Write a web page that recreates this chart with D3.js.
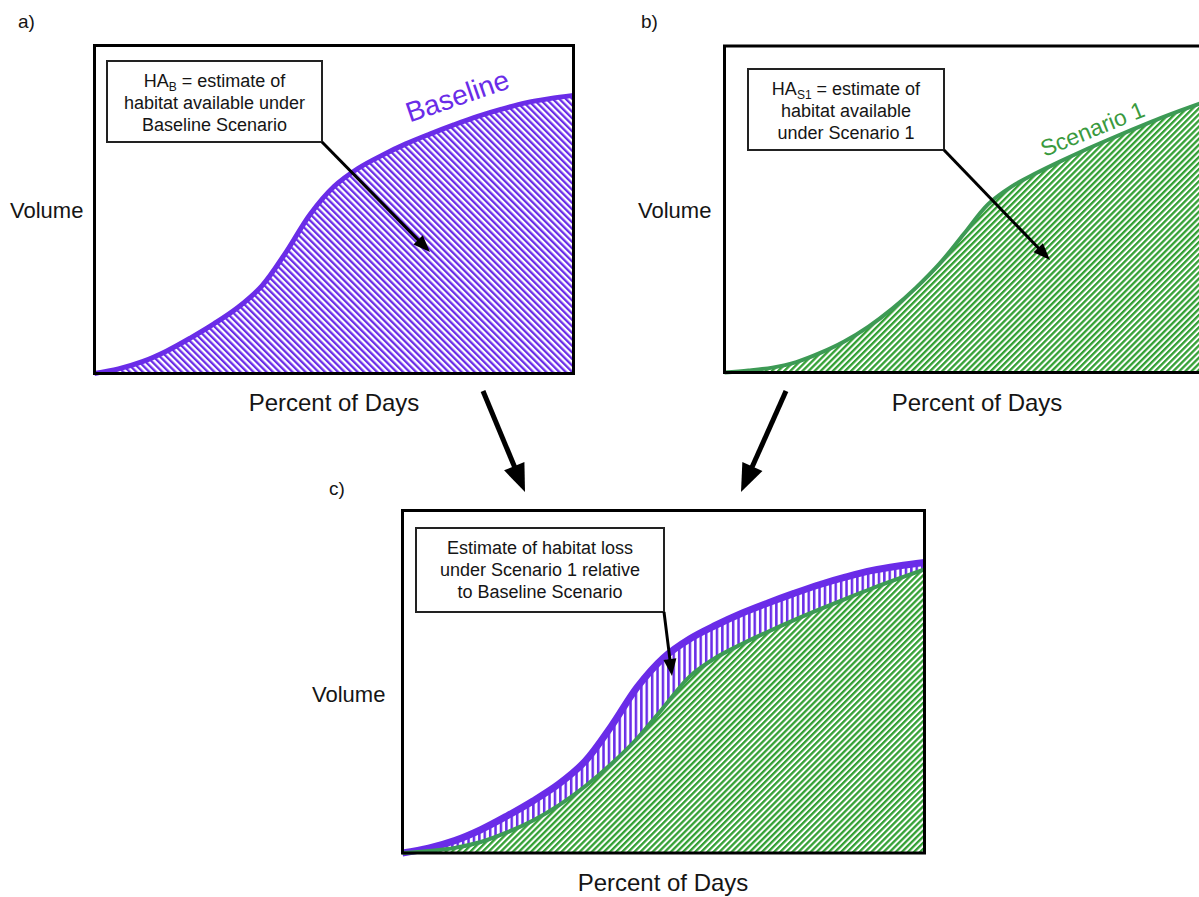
<!DOCTYPE html>
<html>
<head>
<meta charset="utf-8">
<script src="https://cdn.jsdelivr.net/npm/d3@7"></script>
<style>
  body { margin: 0; background: #fff; }
  text { font-family: "Liberation Sans", Arial, sans-serif; fill: #151515; }
</style>
</head>
<body>
<div id="chart"></div>
<script>
// x: percent of days, y: volume (both 0-100)
const pctDays = [0, 5, 10, 15, 20, 25, 30, 35, 40, 45, 50, 55, 60, 65, 70, 75, 80, 85, 90, 95, 100];
const baselineVol = [0, 1.4, 3.6, 6.8, 10.8, 15.2, 20.2, 26.8, 37, 48.5, 57, 62.5, 66.5, 70, 73, 75.8, 78.4, 80.6, 82.5, 83.8, 84.8];
const scenario1Vol = [0, 0.6, 1.5, 3.2, 6, 9.5, 14, 19.5, 26, 33.5, 42.5, 51.5, 57, 61, 64.6, 68, 71.2, 74.3, 77.3, 80.1, 82.8];

const panelLabels = ['a)', 'b)', 'c)'];
const xTitle = 'Percent of Days';
const yTitle = 'Volume';
const noteA = [[['HA', 0], ['B', 1], [' = estimate of', 0]], [['habitat available under', 0]], [['Baseline Scenario', 0]]];
const noteB = [[['HA', 0], ['S1', 1], [' = estimate of', 0]], [['habitat available', 0]], [['under Scenario 1', 0]]];
const noteC = [[['Estimate of habitat loss', 0]], [['under Scenario 1 relative', 0]], [['to Baseline Scenario', 0]]];

const blue = '#6a2ce8';
const green = '#3d9a55';
const greenHatch = '#33a034';

const svg = d3.select('#chart')
  .append('svg')
  .attr('width', 1199)
  .attr('height', 897);
const defs = svg.append('defs');
const curve = d3.curveCatmullRom.alpha(0.5);

// hatch patterns
function hatch(id, color, angle, pitch, lw) {
  const p = defs.append('pattern')
    .attr('id', id)
    .attr('patternUnits', 'userSpaceOnUse')
    .attr('width', pitch)
    .attr('height', pitch)
    .attr('patternTransform', `rotate(${angle})`);
  p.append('rect').attr('width', pitch).attr('height', pitch).attr('fill', '#fff');
  p.append('rect').attr('width', lw).attr('height', pitch).attr('fill', color);
}
hatch('hatchBlue', blue, -45, 4.6, 2.3);
hatch('hatchGreen', greenHatch, 45, 4.3, 2.3);
hatch('hatchBlueV', blue, 0, 5.4, 2.5);

const data = pctDays.map((d, i) => ({ p: d, b: baselineVol[i], s: scenario1Vol[i] }));

function arrow(x1, y1, x2, y2, lw, hl, hw) {
  const a = Math.atan2(y2 - y1, x2 - x1);
  const bx = x2 - hl * Math.cos(a), by = y2 - hl * Math.sin(a);
  svg.append('line')
    .attr('x1', x1).attr('y1', y1).attr('x2', bx + Math.cos(a)).attr('y2', by + Math.sin(a))
    .attr('stroke', '#000').attr('stroke-width', lw);
  const nx = -Math.sin(a) * hw / 2, ny = Math.cos(a) * hw / 2;
  svg.append('path')
    .attr('d', `M${x2},${y2}L${bx + nx},${by + ny}L${bx - nx},${by - ny}Z`)
    .attr('fill', '#000');
}

function note(x, y, w, h, lines) {
  svg.append('rect')
    .attr('x', x).attr('y', y).attr('width', w).attr('height', h)
    .attr('fill', '#fff').attr('stroke', '#222').attr('stroke-width', 2);
  lines.forEach((parts, i) => {
    const t = svg.append('text')
      .attr('x', x + w / 2)
      .attr('y', y + 26 + i * 22)
      .attr('text-anchor', 'middle')
      .style('font-size', '18px');
    parts.forEach(([s, sub]) => {
      const ts = t.append('tspan').text(s);
      if (sub) ts.style('font-size', '12px').attr('dy', 4);
      else if (parts.length > 1 && s.startsWith(' ')) ts.attr('dy', -4);
    });
  });
}

function panel(p) {
  const g = svg.append('g').attr('transform', `translate(${p.x},${p.y})`);
  const x = d3.scaleLinear().domain([0, 100]).range([0, p.w]);
  const y = d3.scaleLinear().domain([0, 100]).range([p.h, 0]);
  g.append('rect').attr('width', p.w).attr('height', p.h).attr('fill', '#fff');
  return { g, x, y };
}

function frame(g, p) {
  g.append('rect').attr('width', p.w).attr('height', p.h)
    .attr('fill', 'none').attr('stroke', '#000').attr('stroke-width', 3);
}

function titles(lx, vx, vy, px, py) {
  svg.append('text').attr('x', lx.x).attr('y', lx.y).text(lx.t).style('font-size', '19px');
  svg.append('text').attr('x', vx).attr('y', vy).text(yTitle).style('font-size', '22px');
  svg.append('text').attr('x', px).attr('y', py).attr('text-anchor', 'middle')
    .text(xTitle).style('font-size', '24px');
}

// panel a: baseline
const pa = { x: 94.5, y: 45.5, w: 479, h: 328 };
{
  const { g, x, y } = panel(pa);
  const area = d3.area().x(d => x(d.p)).y0(pa.h).y1(d => y(d.b)).curve(curve);
  const line = d3.line().x(d => x(d.p)).y(d => y(d.b)).curve(curve);
  g.append('path').datum(data).attr('d', area).attr('fill', 'url(#hatchBlue)');
  g.append('path').datum(data).attr('d', line)
    .attr('fill', 'none').attr('stroke', blue).attr('stroke-width', 5);
  g.append('text')
    .attr('transform', `translate(${x(65.8)},${y(76.5)}) rotate(-19)`)
    .text('Baseline').style('font-size', '28px').style('fill', blue);
  frame(g, pa);
}
titles({ x: 18, y: 28, t: panelLabels[0] }, 10, 218, 334, 411);
note(107, 61, 215, 81, noteA);
arrow(322, 142, 430, 252, 3, 17, 13);

// panel b: scenario 1
const pb = { x: 724.5, y: 46, w: 479, h: 326.5 };
{
  const { g, x, y } = panel(pb);
  const area = d3.area().x(d => x(d.p)).y0(pb.h).y1(d => y(d.s)).curve(curve);
  const line = d3.line().x(d => x(d.p)).y(d => y(d.s)).curve(curve);
  g.append('path').datum(data).attr('d', area).attr('fill', 'url(#hatchGreen)');
  g.append('path').datum(data).attr('d', line)
    .attr('fill', 'none').attr('stroke', green).attr('stroke-width', 4);
  g.append('text')
    .attr('transform', `translate(${x(66.8)},${y(66)}) rotate(-22)`)
    .text('Scenario 1').style('font-size', '23px').style('fill', '#3a9a3e');
  frame(g, pb);
}
titles({ x: 641, y: 28, t: panelLabels[1] }, 638, 218, 977, 411);
note(748, 69, 196, 81, noteB);
arrow(944, 150, 1050, 260, 3, 17, 13);

// panel c: habitat loss
const pc = { x: 402.5, y: 510.5, w: 522, h: 342.5 };
{
  const { g, x, y } = panel(pc);
  const areaS = d3.area().x(d => x(d.p)).y0(pc.h).y1(d => y(d.s)).curve(curve);
  const areaLoss = d3.area().x(d => x(d.p)).y0(d => y(d.s)).y1(d => y(d.b)).curve(curve);
  const lineB = d3.line().x(d => x(d.p)).y(d => y(d.b)).curve(curve);
  const lineS = d3.line().x(d => x(d.p)).y(d => y(d.s)).curve(curve);
  g.append('path').datum(data).attr('d', areaS).attr('fill', 'url(#hatchGreen)');
  g.append('path').datum(data).attr('d', areaLoss).attr('fill', 'url(#hatchBlueV)');
  g.append('path').datum(data).attr('d', lineB)
    .attr('fill', 'none').attr('stroke', blue).attr('stroke-width', 7);
  g.append('path').datum(data).attr('d', lineS)
    .attr('fill', 'none').attr('stroke', green).attr('stroke-width', 4);
  frame(g, pc);
}
titles({ x: 329, y: 495, t: panelLabels[2] }, 312, 702, 663, 891);
note(416, 528, 248, 84, noteC);
arrow(664, 612, 672, 676, 3, 17, 13);

// arrows between panels
arrow(483, 391, 525, 492, 5, 28, 22);
arrow(786, 391, 741, 492, 5, 28, 22);
</script>
</body>
</html>
